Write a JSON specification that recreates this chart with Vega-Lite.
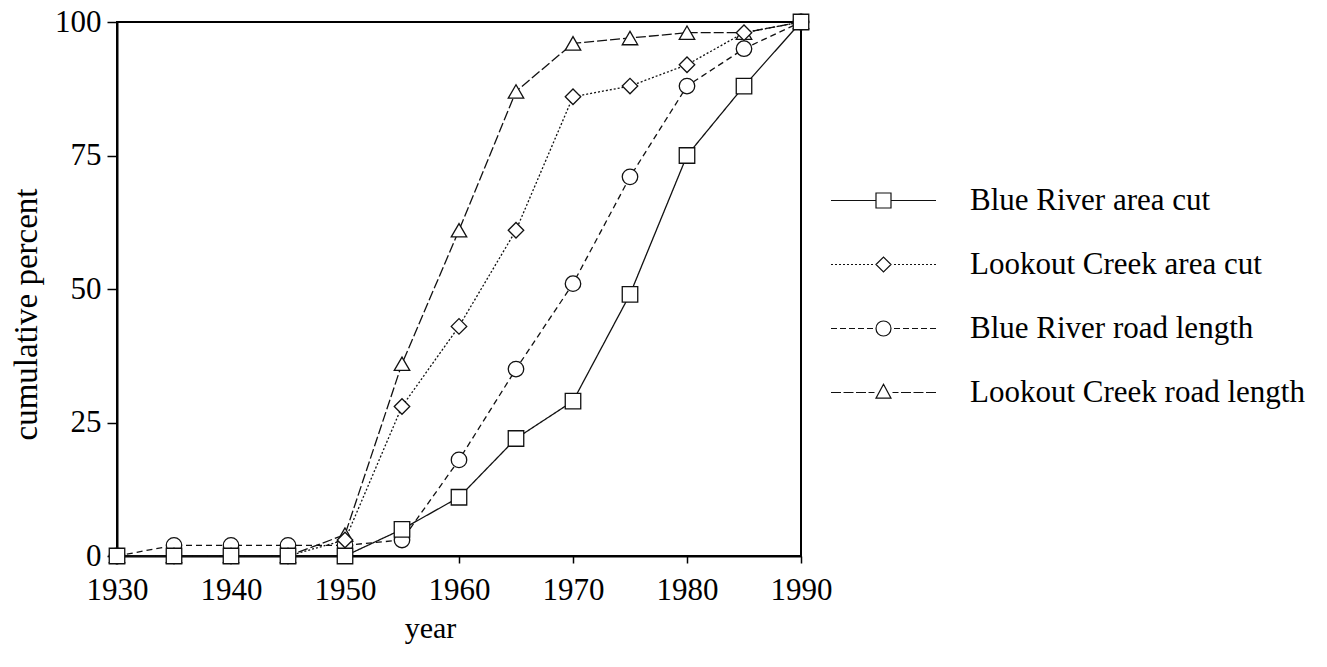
{
  "$schema": "https://vega.github.io/schema/vega-lite/v6.json",
  "autosize": {"type": "none"},
  "width": 684,
  "height": 534,
  "padding": {"left": 117, "top": 22, "right": 526, "bottom": 111},
  "background": "white",
  "config": {
    "view": {"stroke": "black", "strokeWidth": 2},
    "font": "Liberation Serif",
    "axis": {
      "labelFont": "Liberation Serif",
      "labelColor": "black",
      "labelFontSize": 31,
      "labelFlush": false,
      "labelOverlap": false,
      "titleFont": "Liberation Serif",
      "titleFontWeight": "normal",
      "titleColor": "black",
      "tickColor": "black",
      "tickWidth": 1.5,
      "domainColor": "black",
      "domainWidth": 2,
      "grid": false
    }
  },
  "data": {
    "values": [
      {"series": "Lookout Creek road length", "year": 1930, "value": 0},
      {"series": "Lookout Creek road length", "year": 1935, "value": 0},
      {"series": "Lookout Creek road length", "year": 1940, "value": 0},
      {"series": "Lookout Creek road length", "year": 1945, "value": 0},
      {"series": "Lookout Creek road length", "year": 1950, "value": 4},
      {"series": "Lookout Creek road length", "year": 1955, "value": 36},
      {"series": "Lookout Creek road length", "year": 1960, "value": 61},
      {"series": "Lookout Creek road length", "year": 1965, "value": 87},
      {"series": "Lookout Creek road length", "year": 1970, "value": 96},
      {"series": "Lookout Creek road length", "year": 1975, "value": 97},
      {"series": "Lookout Creek road length", "year": 1980, "value": 98},
      {"series": "Lookout Creek road length", "year": 1985, "value": 98},
      {"series": "Lookout Creek road length", "year": 1990, "value": 100},
      {"series": "Blue River road length", "year": 1930, "value": 0},
      {"series": "Blue River road length", "year": 1935, "value": 2},
      {"series": "Blue River road length", "year": 1940, "value": 2},
      {"series": "Blue River road length", "year": 1945, "value": 2},
      {"series": "Blue River road length", "year": 1950, "value": 2},
      {"series": "Blue River road length", "year": 1955, "value": 3},
      {"series": "Blue River road length", "year": 1960, "value": 18},
      {"series": "Blue River road length", "year": 1965, "value": 35},
      {"series": "Blue River road length", "year": 1970, "value": 51},
      {"series": "Blue River road length", "year": 1975, "value": 71},
      {"series": "Blue River road length", "year": 1980, "value": 88},
      {"series": "Blue River road length", "year": 1985, "value": 95},
      {"series": "Blue River road length", "year": 1990, "value": 100},
      {"series": "Lookout Creek area cut", "year": 1930, "value": 0},
      {"series": "Lookout Creek area cut", "year": 1935, "value": 0},
      {"series": "Lookout Creek area cut", "year": 1940, "value": 0},
      {"series": "Lookout Creek area cut", "year": 1945, "value": 0},
      {"series": "Lookout Creek area cut", "year": 1950, "value": 3},
      {"series": "Lookout Creek area cut", "year": 1955, "value": 28},
      {"series": "Lookout Creek area cut", "year": 1960, "value": 43},
      {"series": "Lookout Creek area cut", "year": 1965, "value": 61},
      {"series": "Lookout Creek area cut", "year": 1970, "value": 86},
      {"series": "Lookout Creek area cut", "year": 1975, "value": 88},
      {"series": "Lookout Creek area cut", "year": 1980, "value": 92},
      {"series": "Lookout Creek area cut", "year": 1985, "value": 98},
      {"series": "Lookout Creek area cut", "year": 1990, "value": 100},
      {"series": "Blue River area cut", "year": 1930, "value": 0},
      {"series": "Blue River area cut", "year": 1935, "value": 0},
      {"series": "Blue River area cut", "year": 1940, "value": 0},
      {"series": "Blue River area cut", "year": 1945, "value": 0},
      {"series": "Blue River area cut", "year": 1950, "value": 0},
      {"series": "Blue River area cut", "year": 1955, "value": 5},
      {"series": "Blue River area cut", "year": 1960, "value": 11},
      {"series": "Blue River area cut", "year": 1965, "value": 22},
      {"series": "Blue River area cut", "year": 1970, "value": 29},
      {"series": "Blue River area cut", "year": 1975, "value": 49},
      {"series": "Blue River area cut", "year": 1980, "value": 75},
      {"series": "Blue River area cut", "year": 1985, "value": 88},
      {"series": "Blue River area cut", "year": 1990, "value": 100}
    ]
  },
  "encoding": {
    "x": {
      "field": "year",
      "type": "quantitative",
      "scale": {"domain": [1930, 1990], "nice": false, "zero": false},
      "axis": {
        "values": [1930, 1940, 1950, 1960, 1970, 1980, 1990],
        "format": "d",
        "title": "year",
        "titleFontSize": 30,
        "titleX": 313,
        "tickSize": 7,
        "labelPadding": 12,
        "titlePadding": 8
      }
    },
    "y": {
      "field": "value",
      "type": "quantitative",
      "scale": {"domain": [0, 100], "nice": false},
      "axis": {
        "values": [0, 25, 50, 75, 100],
        "title": "cumulative percent",
        "titleFontSize": 33,
        "titleY": 292,
        "tickSize": 10,
        "labelPadding": 6,
        "titlePadding": 11
      }
    }
  },
  "layer": [
    {
      "mark": {"type": "line", "color": "#111", "strokeWidth": 1.3},
      "encoding": {
        "detail": {"field": "series"},
        "strokeDash": {
          "field": "series",
          "type": "nominal",
          "scale": {
            "domain": ["Blue River area cut", "Lookout Creek area cut", "Blue River road length", "Lookout Creek road length"],
            "range": [[1, 0], [2, 2], [6, 4], [10, 3]]
          },
          "legend": null
        }
      }
    },
    {
      "mark": {"type": "point", "filled": true, "fill": "white", "stroke": "#111", "strokeWidth": 1.3, "size": 240, "opacity": 1},
      "encoding": {
        "shape": {
          "field": "series",
          "type": "nominal",
          "scale": {
            "domain": ["Blue River area cut", "Lookout Creek area cut", "Blue River road length", "Lookout Creek road length"],
            "range": ["square", "diamond", "circle", "triangle-up"]
          },
          "legend": null
        }
      }
    },
    {
      "transform": [{"filter": "datum.year > 3000"}],
      "mark": {"type": "point", "filled": false, "color": "#111", "strokeWidth": 1.2, "opacity": 1},
      "encoding": {
        "shape": {
          "field": "series",
          "type": "nominal",
          "scale": {
            "domain": ["Blue River area cut", "Lookout Creek area cut", "Blue River road length", "Lookout Creek road length"],
            "range": [
              "M-7,0H-1M1,0H7M-1,-1H1V1H-1Z",
              "M-7,0H-6.73M-6.47,0H-6.2M-5.93,0H-5.67M-5.4,0H-5.13M-4.87,0H-4.6M-4.33,0H-4.07M-3.8,0H-3.53M-3.27,0H-3M-2.73,0H-2.47M-2.2,0H-1.93M-1.67,0H-1.4M1.4,0H1.67M1.93,0H2.2M2.47,0H2.73M3,0H3.27M3.53,0H3.8M4.07,0H4.33M4.6,0H4.87M5.13,0H5.4M5.67,0H5.93M6.2,0H6.47M6.73,0H7M-1,0L0,-1L1,0L0,1Z",
              "M-7,0H-6.2M-5.8,0H-5M-4.6,0H-3.8M-3.4,0H-2.6M-2.2,0H-1.4M1.4,0H2.2M2.6,0H3.4M3.8,0H4.6M5,0H5.8M6.2,0H7M1,0A1,1 0 1,1 -1,0A1,1 0 1,1 1,0Z",
              "M-7,0H-5.67M-5.33,0H-4M-3.67,0H-2.33M-2,0H-1.2M1.2,0H2M2.33,0H3.67M4,0H5.33M5.67,0H7M0,-1.1L1,0.75L-1,0.75Z"
            ]
          },
          "legend": {
            "title": null,
            "orient": "none",
            "legendX": 751,
            "legendY": 163,
            "symbolSize": 225,
            "symbolOpacity": 1,
            "symbolStrokeColor": "#111",
            "symbolStrokeWidth": 1.2,
            "labelFont": "Liberation Serif",
            "labelFontSize": 31,
            "labelColor": "black",
            "labelOffset": 71,
            "rowPadding": 32,
            "labelLimit": 0
          }
        }
      }
    }
  ],
  "resolve": {"scale": {"shape": "independent"}}
}
